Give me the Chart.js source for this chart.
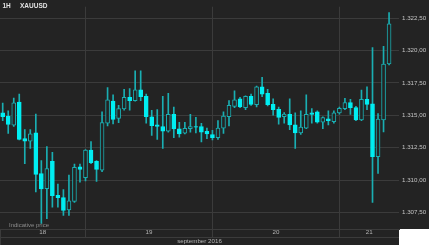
<!DOCTYPE html>
<html>
<head>
<meta charset="utf-8">
<script src="https://cdn.jsdelivr.net/npm/chart.js@4.4.1/dist/chart.umd.min.js"></script>
<style>
  html, body { margin: 0; padding: 0; background: #ffffff; }
  #wrap { width: 429px; height: 245px; }
</style>
</head>
<body>
<div id="wrap"><canvas id="c" width="429" height="245"></canvas></div>
<script>
// ---- data (1H XAUUSD candles) ----
const opens  = [1315.19,1314.94,1314.24,1316.02,1313.20,1313.00,1313.65,1310.50,1309.35,1311.45,1308.83,1308.66,1307.71,1308.36,1311.03,1310.20,1312.32,1311.45,1310.78,1314.39,1316.09,1314.77,1315.49,1316.39,1316.14,1316.96,1316.47,1314.89,1314.27,1314.14,1313.77,1315.07,1313.95,1313.62,1313.97,1314.14,1314.14,1313.77,1313.52,1313.27,1314.02,1314.89,1315.69,1316.27,1315.59,1316.47,1315.82,1317.19,1316.69,1315.84,1315.47,1314.89,1315.07,1314.27,1313.65,1314.02,1315.19,1315.27,1314.47,1314.74,1314.52,1315.19,1315.52,1315.99,1315.59,1314.64,1316.24,1315.89,1311.82,1314.64,1318.96];
const highs  = [1315.94,1315.34,1316.34,1316.64,1313.90,1313.90,1315.09,1311.52,1312.60,1312.15,1309.70,1309.28,1310.40,1311.25,1311.25,1312.35,1312.97,1311.52,1315.27,1317.14,1316.59,1315.77,1317.01,1317.06,1318.44,1318.44,1316.64,1315.39,1315.44,1316.47,1316.69,1315.64,1314.47,1314.47,1315.07,1314.84,1314.39,1314.02,1313.85,1314.59,1315.27,1316.14,1316.89,1316.39,1316.51,1316.64,1317.26,1317.94,1317.01,1316.27,1315.64,1315.22,1316.27,1315.19,1315.34,1316.59,1315.52,1315.34,1314.89,1315.34,1315.34,1315.64,1316.32,1316.24,1315.69,1316.94,1317.19,1320.23,1315.14,1320.33,1322.93];
const lows   = [1314.59,1313.60,1314.14,1313.10,1311.28,1312.45,1309.10,1306.66,1307.03,1307.91,1307.91,1307.28,1307.28,1308.28,1309.85,1309.95,1311.28,1309.90,1310.65,1314.19,1314.34,1314.44,1315.39,1315.39,1316.09,1316.14,1314.39,1313.45,1313.15,1312.45,1313.70,1313.27,1313.32,1313.57,1313.70,1313.65,1312.95,1313.20,1313.10,1313.15,1313.60,1314.19,1315.59,1315.59,1315.44,1315.77,1315.64,1316.44,1315.72,1315.02,1314.32,1314.39,1313.89,1312.45,1313.52,1313.97,1314.39,1314.39,1313.97,1314.27,1314.39,1315.09,1315.44,1315.07,1314.59,1314.59,1315.44,1308.28,1310.53,1313.72,1318.88];
const closes = [1314.89,1314.29,1315.97,1313.15,1313.00,1313.57,1310.45,1309.33,1310.90,1308.80,1308.66,1307.66,1308.41,1311.00,1310.83,1312.32,1311.35,1310.83,1314.44,1316.19,1314.69,1315.52,1316.39,1316.14,1316.96,1316.44,1314.89,1314.20,1314.14,1313.77,1315.07,1313.95,1313.57,1313.99,1314.14,1314.09,1313.70,1313.57,1313.27,1314.02,1314.94,1315.77,1316.19,1315.64,1316.47,1315.84,1317.19,1316.64,1315.82,1315.44,1314.84,1315.09,1314.27,1313.65,1314.09,1315.07,1315.07,1314.47,1314.82,1314.59,1315.19,1315.54,1315.99,1315.59,1314.64,1316.24,1315.84,1311.82,1314.72,1318.96,1322.05];
const dayLabels = ['18', '19', '20', '21'];
const dayStartIndex = [15, 38, 61];           // first candle of days 19, 20, 21
const yTickValues = [1307.5, 1310, 1312.5, 1315, 1317.5, 1320, 1322.5];
const axisTitle = 'september 2016';
const symbolText = ['1H', 'XAUUSD'];
const noteText = 'Indicative price';

// ---- styles ----
const BG = '#232323';
const GRID = '#3b3b3b';
const FILL = '#00eef2';
const LINE = '#1aaeb2';
const FONT = '"Liberation Sans", Arial, sans-serif';

const X_MIN = -0.49, X_MAX = 71.8;
const Y_MIN = 1306.235, Y_MAX = 1323.376;

// label positions: centre of each day's visible span
const bounds = [X_MIN, ...dayStartIndex, X_MAX];
const labelPos = dayLabels.map((_, i) => (bounds[i] + bounds[i + 1]) / 2);

const up = opens.map((o, i) => closes[i] >= o);
const wickData = highs.map((h, i) => ({ x: i, y: [lows[i], h] }));
const bodyData = opens.map((o, i) => ({ x: i, y: [Math.min(o, closes[i]), Math.max(o, closes[i])] }));

function fmt(v) {
  const s = v.toFixed(2).split('.');
  const intPart = s[0].replace(/\B(?=(\d{3})+(?!\d))/g, '.');
  return intPart + ',' + s[1];
}
const isBoundary = v => dayStartIndex.some(b => Math.abs(b - v) < 1e-6);

const deco = {
  id: 'deco',
  beforeDraw(chart) {
    const ctx = chart.ctx, a = chart.chartArea;
    ctx.save();
    ctx.fillStyle = BG;
    ctx.fillRect(0, 0, chart.width, chart.height);
    ctx.fillStyle = '#ffffff';
    ctx.fillRect(a.right, a.bottom, chart.width - a.right, chart.height - a.bottom);
    ctx.restore();
  },
  afterDraw(chart) {
    const ctx = chart.ctx, a = chart.chartArea;
    ctx.save();
    ctx.strokeStyle = GRID;
    ctx.lineWidth = 1;
    ctx.beginPath();
    ctx.moveTo(a.left, a.bottom + 8.5);
    ctx.lineTo(a.right, a.bottom + 8.5);
    ctx.moveTo(a.left + 0.5, a.bottom);
    ctx.lineTo(a.left + 0.5, chart.height);
    ctx.stroke();
    ctx.fillStyle = '#e2e2e2';
    ctx.font = 'bold 6.5px ' + FONT;
    ctx.textBaseline = 'middle';
    ctx.textAlign = 'left';
    ctx.fillText(symbolText[0], 2.5, 6.5);
    ctx.fillText(symbolText[1], 20, 6.5);
    ctx.fillStyle = '#8c8c8c';
    ctx.font = '6px ' + FONT;
    ctx.fillText(noteText, 9, a.bottom - 3.3);
    ctx.restore();
  }
};

new Chart(document.getElementById('c'), {
  type: 'bar',
  data: {
    datasets: [
      {
        label: 'wick',
        data: wickData,
        backgroundColor: LINE,
        borderWidth: 0,
        barThickness: 1,
        grouped: false,
        order: 2
      },
      {
        label: 'body',
        data: bodyData,
        backgroundColor: up.map(u => u ? BG : FILL),
        borderColor: up.map(u => u ? LINE : FILL),
        borderWidth: 1,
        borderSkipped: false,
        barThickness: 4,
        grouped: false,
        order: 1
      }
    ]
  },
  options: {
    responsive: false,
    animation: false,
    devicePixelRatio: 1,
    layout: { padding: 0 },
    plugins: { legend: { display: false }, tooltip: { enabled: false } },
    scales: {
      x: {
        type: 'linear',
        position: 'bottom',
        offset: false,
        min: X_MIN,
        max: X_MAX,
        afterBuildTicks(scale) {
          scale.ticks = [...dayStartIndex, ...labelPos].sort((p, q) => p - q).map(v => ({ value: v }));
        },
        afterFit(scale) { scale.height = 16; },
        ticks: {
          autoSkip: false,
          maxRotation: 0,
          padding: -8,
          color: '#b4b4b4',
          font: { family: FONT, size: 6.2 },
          callback(v) {
            const k = labelPos.findIndex(p => Math.abs(p - v) < 1e-6);
            return k >= 0 ? dayLabels[k] : '';
          }
        },
        grid: {
          offset: false,
          color: c => (c.tick && isBoundary(c.tick.value)) ? GRID : 'rgba(0,0,0,0)',
          tickColor: c => (c.tick && isBoundary(c.tick.value)) ? GRID : 'rgba(0,0,0,0)',
          drawTicks: true,
          tickLength: 8,
          lineWidth: 1
        },
        border: { display: true, color: GRID, width: 1 },
        title: {
          display: true,
          text: axisTitle,
          color: '#b4b4b4',
          font: { family: FONT, size: 6.2 },
          padding: 0
        }
      },
      y: {
        type: 'linear',
        position: 'right',
        min: Y_MIN,
        max: Y_MAX,
        afterBuildTicks(scale) {
          scale.ticks = yTickValues.map(v => ({ value: v }));
        },
        afterFit(scale) { scale.width = 30; },
        ticks: {
          padding: 3,
          color: '#c4c4c4',
          font: { family: FONT, size: 6.2 },
          callback: v => fmt(v)
        },
        grid: { color: GRID, drawTicks: false, lineWidth: 1 },
        border: { display: false }
      }
    }
  },
  plugins: [deco]
});
</script>
</body>
</html>
